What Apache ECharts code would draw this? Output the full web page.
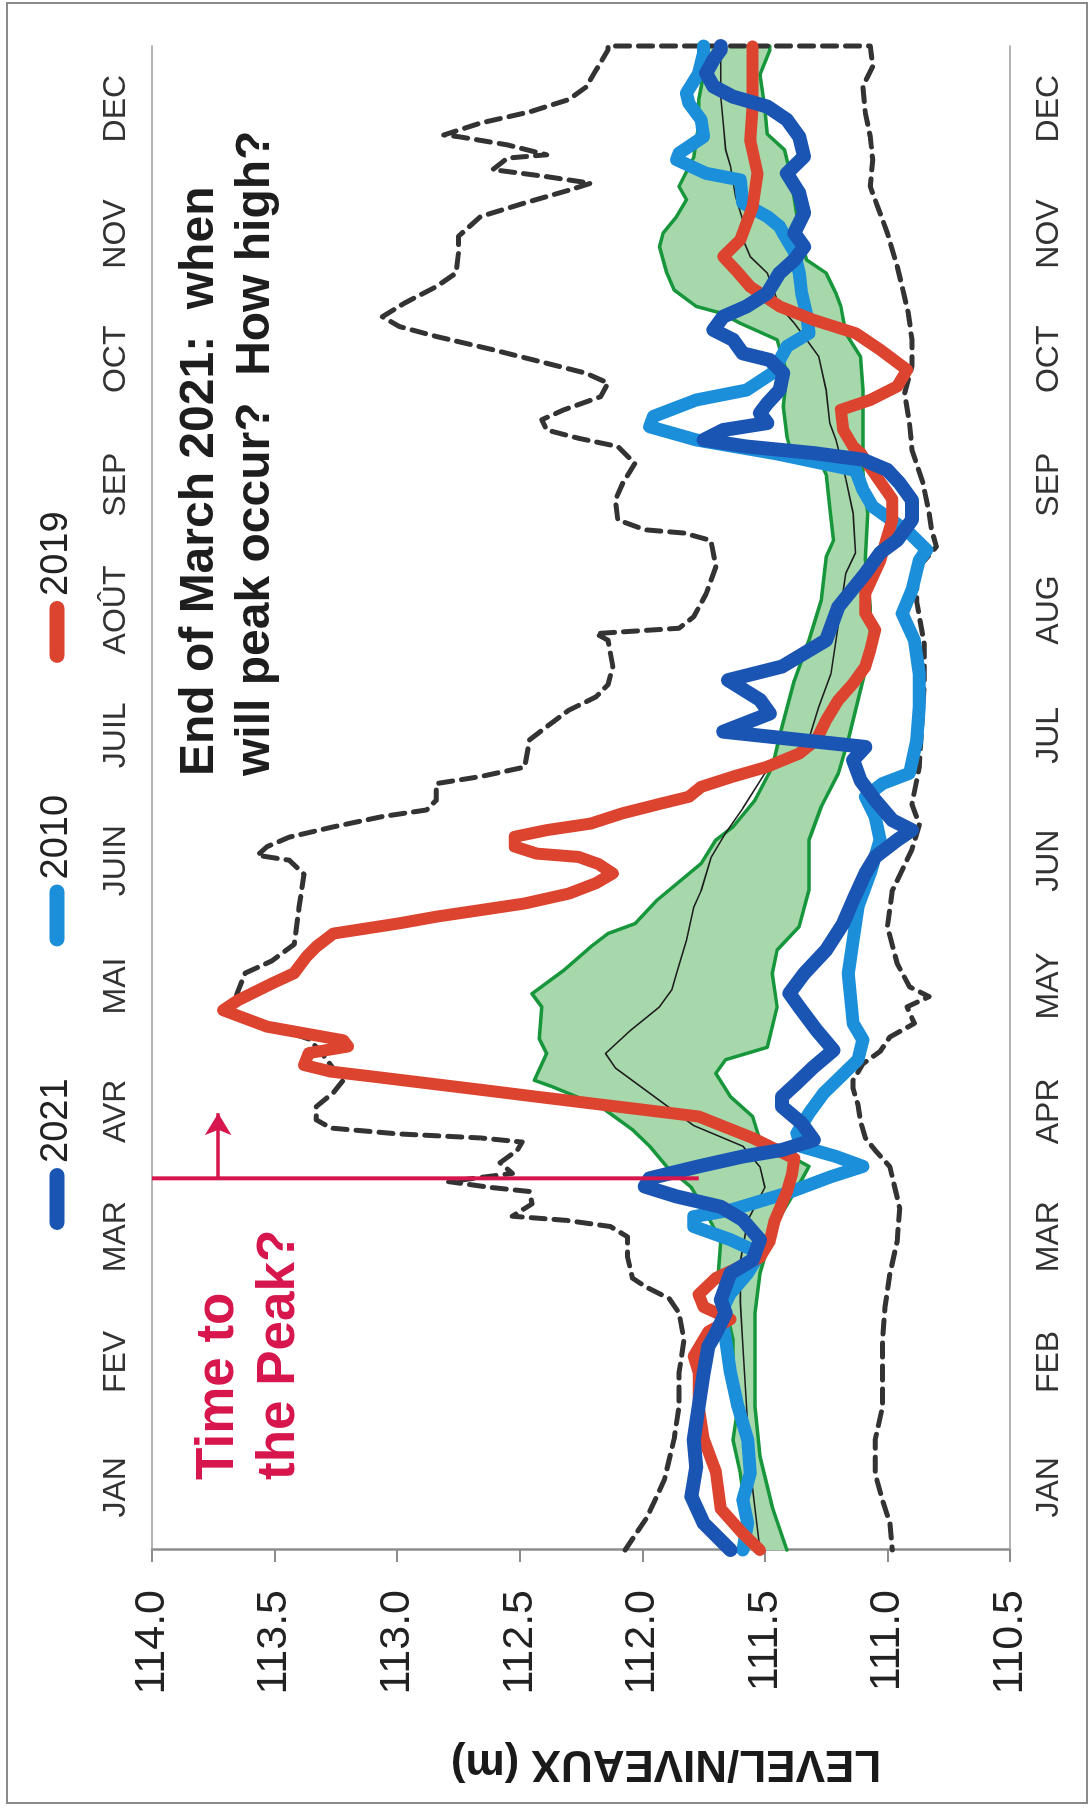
<!DOCTYPE html>
<html>
<head>
<meta charset="utf-8">
<title>Level / Niveaux</title>
<script src="https://cdn.jsdelivr.net/npm/echarts@6/dist/echarts.min.js"></script>
<style>
  html, body { margin: 0; padding: 0; overflow: hidden; background: #ffffff; width: 1091px; height: 1810px; }
  /* The chart is laid out landscape and turned a quarter turn so the time axis runs upward. */
  #chart { position: absolute; left: 0; top: 0; width: 1810px; height: 1091px;
           transform-origin: 0 0; transform: translate(0, 1810px) rotate(-90deg); }
</style>
</head>
<body>
<div id="chart"></div>
<script>
// Month labels (English under the plot, French above it)
const monthsEn = ['JAN', 'FEB', 'MAR', 'APR', 'MAY', 'JUN', 'JUL', 'AUG', 'SEP', 'OCT', 'NOV', 'DEC'];
const monthsFr = ['JAN', 'FEV', 'MAR', 'AVR', 'MAI', 'JUIN', 'JUIL', 'AOÛT', 'SEP', 'OCT', 'NOV', 'DEC'];
const legendNames = ['2021', '2010', '2019'];

// [day of year, level in metres]
const envelopeMax = [
  [0,112.07],[8,111.98],[17,111.91],[27,111.87],[35,111.85],[43,111.85],[51,111.83],[57.5,111.85],[61,111.89],[64,111.99],
  [66,112.04],[71,112.06],[76,112.06],[78.5,112.13],[80,112.31],[81,112.53],[84,112.45],[87,112.46],[88,112.62],[89.4,112.79],
  [91.4,112.53],[94,112.58],[97,112.51],[99,112.49],[100,112.66],[101,113.0],[102.4,113.27],[104.4,113.33],[107.6,113.33],[111,113.26],
  [114,113.22],[116,113.25],[120,113.3],[124,113.36],[128,113.56],[131,113.72],[134,113.66],[140,113.62],[143,113.51],[147,113.42],
  [156,113.40],[164,113.38],[167.4,113.44],[168.6,113.57],[170.7,113.53],[173,113.44],[175.5,113.26],[178,113.06],[179.6,112.88],[182,112.84],
  [186,112.84],[187.7,112.66],[190,112.48],[196.6,112.46],[199.8,112.39],[203.8,112.30],[207,112.19],[210,112.14],[214.4,112.12],[220.8,112.14],
  [222.4,112.19],[223.7,111.85],[226.5,111.79],[232,111.74],[238.6,111.70],[245,111.72],[246.8,111.83],[247.6,111.99],[250,112.10],[254.8,112.11],
  [258.9,112.08],[263.7,112.03],[267.8,112.10],[269.8,112.26],[271.8,112.39],[274.3,112.41],[276.7,112.32],[279.9,112.17],[283.2,112.14],[285.6,112.23],
  [288,112.39],[291.3,112.61],[294.5,112.84],[296.9,112.99],[299.3,113.06],[302.6,112.97],[306.6,112.84],[309.9,112.76],[314.7,112.75],[318.8,112.75],
  [323.6,112.66],[326.9,112.48],[330,112.30],[331.7,112.21],[333.3,112.39],[335,112.61],[337.8,112.55],[338.6,112.39],[341,112.55],[343,112.75],
  [343.4,112.81],[346.3,112.66],[349,112.46],[352,112.30],[355,112.23],[359,112.19],[364,112.14],[365,112.14]
];
const envelopeMin = [
  [0,110.98],[6.5,110.99],[12,111.02],[18.6,111.05],[26.7,111.05],[34.8,111.02],[43,111.02],[51,111.02],[59,111.01],[67,110.99],
  [75,110.96],[83,110.95],[88,110.97],[93,110.99],[97,111.05],[100,111.09],[104,111.11],[108,111.12],[112,111.14],[114,111.14],
  [118,111.10],[121,111.03],[124.5,110.99],[127.8,110.89],[131.8,110.92],[134.3,110.83],[136.7,110.91],[142.3,110.96],[151.3,111.0],[160,110.98],
  [170,110.90],[176,110.87],[181,110.90],[190,110.87],[200,110.86],[210,110.85],[220,110.85],[230,110.88],[238,110.88],[243.5,110.80],
  [247.6,110.82],[251.6,110.83],[258.9,110.855],[267,110.90],[273.5,110.91],[280.7,110.93],[287.2,110.90],[293.7,110.90],[300.2,110.915],[306.6,110.94],
  [311.5,110.96],[319.6,111.00],[326,111.04],[330.9,111.07],[337.4,111.06],[343,111.07],[348.7,111.09],[355.2,111.10],[360,111.06],[365,111.07]
];
const bandUpper = [
  [0,111.57],[10.5,111.58],[18.6,111.60],[26.7,111.63],[34.8,111.61],[43,111.63],[51,111.63],[59,111.66],[67,111.69],[75,111.68],
  [83,111.75],[88,111.80],[93,111.90],[98,111.97],[102,112.04],[107.6,112.17],[112.5,112.37],[114,112.44],[120.5,112.39],[124,112.42],
  [131.8,112.41],[135,112.45],[140.7,112.32],[146.4,112.21],[149.6,112.14],[152,112.03],[157.7,111.94],[166.6,111.76],[172.3,111.70],[175.5,111.63],
  [182,111.54],[190,111.47],[199.8,111.43],[211,111.38],[220.8,111.32],[230.5,111.27],[241,111.25],[245,111.22],[253,111.235],[261,111.25],
  [265,111.28],[268,111.40],[270.2,111.41],[277.5,111.425],[285.6,111.41],[293.7,111.45],[297.7,111.60],[300.2,111.68],[301.8,111.78],[305.8,111.87],
  [309.9,111.90],[316.3,111.93],[319.6,111.915],[323.6,111.86],[327.7,111.82],[330.9,111.85],[338,111.79],[346,111.77],[352,111.77],[358,111.75],
  [365,111.73]
];
const bandLower = [
  [0,111.41],[10.5,111.47],[22.7,111.52],[34.8,111.54],[47,111.54],[57.5,111.54],[67.2,111.52],[75.3,111.48],[81.7,111.43],[89.8,111.35],
  [93.1,111.32],[99.5,111.52],[105.2,111.55],[110,111.64],[115.7,111.70],[119,111.66],[122,111.49],[131.8,111.45],[139.9,111.47],[145.6,111.45],
  [151.3,111.36],[160.2,111.32],[172.3,111.32],[180.4,111.27],[188.5,111.20],[196.6,111.16],[208.7,111.11],[218.4,111.07],[228.9,111.07],[240.2,111.09],
  [251.6,111.08],[261.3,111.10],[269.4,111.10],[281.5,111.10],[289.6,111.11],[295.3,111.17],[301.8,111.19],[305,111.21],[309.9,111.25],[313.1,111.33],
  [320,111.36],[328,111.38],[335,111.40],[339.8,111.42],[343.6,111.49],[350,111.50],[358,111.52],[364,111.48],[365,111.48]
];
const median = [
  [0,111.52],[10,111.54],[20,111.56],[30,111.57],[40,111.58],[50,111.59],[60,111.60],[70,111.60],[80,111.57],[88,111.50],
  [93,111.52],[98,111.59],[103,111.79],[110,111.95],[117,112.11],[120.5,112.15],[126,112.05],[131.8,111.93],[135.9,111.88],[139.9,111.86],
  [148,111.82],[156,111.79],[160,111.76],[168,111.72],[174,111.66],[180,111.59],[188.5,111.50],[195,111.33],[204.6,111.28],[212.7,111.23],
  [220.8,111.21],[228.9,111.19],[237,111.17],[242,111.13],[251.6,111.14],[260,111.17],[269.4,111.21],[273.5,111.235],[281.5,111.25],[289.6,111.28],
  [293.7,111.33],[297.7,111.38],[301.8,111.44],[309.9,111.49],[313.9,111.56],[319.6,111.60],[322.8,111.59],[328.5,111.62],[335.8,111.64],[339.8,111.66],
  [346.3,111.67],[352.7,111.68],[358,111.68],[365,111.68]
];
const year2010 = [
  [0,111.59],[6.5,111.57],[12.1,111.59],[18.6,111.56],[26.7,111.57],[34.8,111.61],[42.9,111.64],[51,111.66],[57.5,111.68],[62.3,111.64],
  [67.2,111.57],[72,111.52],[75.3,111.64],[78.5,111.79],[80.9,111.79],[82.5,111.64],[86.6,111.41],[90.6,111.23],[93.1,111.10],[95.5,111.21],
  [97.9,111.35],[101.1,111.37],[106,111.32],[110.9,111.26],[114.9,111.19],[119,111.12],[123.8,111.10],[127.8,111.14],[139.9,111.16],[148,111.14],
  [156.1,111.12],[164.2,111.07],[172.3,111.03],[178,111.05],[182.8,111.09],[186,111.02],[188.5,110.91],[196.6,110.88],[204.6,110.87],[212.7,110.87],
  [220.8,110.89],[227.3,110.94],[233,110.90],[240.2,110.87],[242.7,110.84],[246.8,110.91],[253.2,111.06],[257.3,111.10],[262,111.13],[266,111.45],
  [269.4,111.78],[272.6,111.97],[275.1,111.955],[279.1,111.78],[281.5,111.575],[285.6,111.47],[288.8,111.44],[292.1,111.41],[295.3,111.32],[300,111.33],
  [305,111.35],[310,111.36],[315,111.38],[319,111.42],[321.2,111.44],[323.6,111.49],[326.9,111.59],[332.5,111.60],[334.1,111.74],[337.4,111.86],
  [339,111.85],[343,111.75],[347.1,111.76],[351.1,111.81],[353.6,111.82],[358.4,111.77],[363.3,111.75],[365,111.75]
];
const year2019 = [
  [0,111.52],[4,111.59],[10,111.68],[19,111.70],[27,111.75],[35,111.77],[43,111.77],[47,111.79],[53,111.73],[56,111.64],
  [59,111.75],[62,111.77],[66,111.70],[71,111.52],[75,111.48],[80,111.46],[87,111.41],[91,111.39],[95,111.38],[100,111.55],
  [105.2,111.77],[106.8,111.99],[108.4,112.21],[110,112.43],[111.7,112.66],[113.3,112.88],[114.9,113.10],[116.1,113.27],[117.7,113.38],[120.6,113.36],
  [122.2,113.20],[123.7,113.22],[127,113.53],[131,113.71],[133.4,113.65],[137.5,113.51],[140,113.42],[144,113.37],[146.4,113.33],[149.6,113.26],
  [152.1,112.99],[153.7,112.84],[155.3,112.66],[156.9,112.48],[159.3,112.30],[161.8,112.19],[164.2,112.12],[166.5,112.18],[168.2,112.26],[169,112.43],
  [170.7,112.52],[173.1,112.52],[174.7,112.39],[176.3,112.21],[178.8,112.08],[181.2,111.92],[182.8,111.81],[185.2,111.76],[187.7,111.63],[190.1,111.49],
  [193.3,111.36],[196.6,111.29],[201.4,111.25],[206.3,111.20],[210.3,111.14],[214.4,111.09],[218.4,111.07],[223.3,111.05],[227.3,111.09],[232.2,111.09],
  [240,111.03],[250,110.98],[255,110.98],[261,111.05],[266.2,111.11],[267.8,111.14],[271.8,111.18],[276.7,111.19],[279.1,111.07],[282.4,110.96],
  [286.4,110.92],[291.3,111.03],[295.3,111.13],[298.5,111.30],[301.8,111.44],[306.6,111.56],[310.7,111.62],[313.9,111.67],[318,111.60],[326,111.55],
  [334.1,111.53],[342.2,111.56],[350,111.55],[356.8,111.55],[364.9,111.55]
];
const year2021 = [
  [0,111.64],[6.5,111.75],[13,111.80],[20,111.78],[26.7,111.79],[34.8,111.77],[42.9,111.75],[49.4,111.73],[52.6,111.70],[57.5,111.66],
  [60.7,111.68],[67.2,111.64],[70.4,111.55],[75.3,111.52],[80.1,111.59],[83.3,111.68],[85.8,111.86],[88.2,111.99],[90.2,111.97],[93.1,111.77],
  [95.5,111.59],[97.1,111.43],[99.5,111.30],[103.6,111.35],[107.6,111.43],[110,111.43],[113.3,111.37],[117.3,111.30],[121.3,111.22],[126.2,111.29],
  [131.8,111.36],[135.1,111.40],[139.9,111.34],[145.6,111.25],[152.1,111.18],[157.7,111.14],[164.2,111.09],[168.2,111.05],[172.3,110.96],[174.7,110.90],
  [177.1,110.98],[182,111.05],[186.8,111.11],[191.7,111.14],[194.9,111.09],[198.6,111.67],[203,111.48],[206.3,111.52],[211.1,111.65],[214.4,111.43],
  [220.8,111.25],[228.9,111.20],[237,111.09],[242,111.03],[245.1,110.96],[250,110.90],[254.8,110.90],[258.9,110.95],[262.1,111.00],[264.6,111.10],
  [266.2,111.30],[267.8,111.575],[269.4,111.75],[271.8,111.67],[273.5,111.49],[275.9,111.52],[278.3,111.49],[281.5,111.44],[285.6,111.425],[288.8,111.48],
  [290.4,111.59],[293.7,111.63],[296.1,111.71],[299.3,111.67],[301.8,111.575],[305,111.49],[309.9,111.44],[313.1,111.38],[316.3,111.34],[319.6,111.38],
  [324.4,111.34],[329.3,111.36],[334.1,111.41],[338.2,111.34],[343,111.36],[347.1,111.41],[350.3,111.49],[352.7,111.63],[355.2,111.71],[358.4,111.74],
  [361.6,111.71],[364.1,111.68],[365,111.68]
];
// "End of March" marker: day, level reached by the line, level of the arrow and its end day
const markerLine = [[90.2, 114.0], [90.2, 111.77]];
const markerArrow = [[90.2, 113.73], [106, 113.73]];

const FONT = '"Liberation Sans", Arial, Helvetica, sans-serif';
const CRIMSON = '#d6164c';
const C2021 = '#1b55b3', C2010 = '#1c8fdb', C2019 = '#dc4430';

function thickLine(name, data, color, width) {
  return {
    name: name, type: 'line', data: data, xAxisIndex: 0, yAxisIndex: 0,
    showSymbol: false, symbol: 'none', smooth: false,
    itemStyle: { color: color },
    lineStyle: { color: color, width: width, cap: 'round', join: 'round' },
    emphasis: { disabled: true }
  };
}

const chart = echarts.init(document.getElementById('chart'), null, { renderer: 'canvas' });

chart.setOption({
  animation: false,
  backgroundColor: '#ffffff',
  grid: { left: 260, right: 46, top: 152, bottom: 81, containLabel: false },
  legend: {
    data: legendNames, left: 575, top: 33, orient: 'horizontal',
    itemWidth: 62, itemHeight: 15, itemGap: 132, selectedMode: false,
    icon: 'path://M7.5,0H54.5A7.5,7.5,0,0,1,54.5,15H7.5A7.5,7.5,0,0,1,7.5,0Z',
    textStyle: { fontSize: 38, color: '#222222', fontFamily: FONT }
  },
  xAxis: [
    { type: 'value', min: 0, max: 365, show: false },
    {
      type: 'category', data: monthsEn, position: 'bottom', boundaryGap: true,
      axisLine: { show: true, lineStyle: { color: '#9a9a9a', width: 1.5 } },
      axisTick: { show: false }, splitLine: { show: false },
      axisLabel: { interval: 0, fontSize: 32, color: '#333333', margin: 23, fontFamily: FONT }
    },
    {
      type: 'category', data: monthsFr, position: 'top', boundaryGap: true,
      axisLine: { show: true, lineStyle: { color: '#9a9a9a', width: 1.5 } },
      axisTick: { show: false }, splitLine: { show: false },
      axisLabel: { interval: 0, fontSize: 32, color: '#333333', margin: 20, fontFamily: FONT }
    }
  ],
  yAxis: {
    type: 'value', min: 110.5, max: 114, interval: 0.5,
    axisLine: { show: true, lineStyle: { color: '#8c8c8c', width: 2.5 } },
    axisTick: { show: true, length: 12, lineStyle: { color: '#8c8c8c', width: 2 } },
    splitLine: { show: false },
    axisLabel: { formatter: v => v.toFixed(1), fontSize: 43, color: '#222222', margin: 40, fontFamily: FONT }
  },
  graphic: [
    { type: 'rect', silent: true, z: 0, shape: { x: 7, y: 7, width: 1800, height: 1080 },
      style: { fill: 'none', stroke: '#8a8a8a', lineWidth: 2 } },
    { type: 'text', x: 47, y: 666, rotation: Math.PI / 2, silent: true,
      style: { text: 'LEVEL/NIVEAUX (m)', font: 'bold 44px ' + FONT, fill: '#1a1a1a', align: 'center', verticalAlign: 'middle' } },
    { type: 'text', x: 330, y: 218, silent: true,
      style: { text: 'Time to', font: 'bold 53px ' + FONT, fill: CRIMSON, align: 'left', verticalAlign: 'middle' } },
    { type: 'text', x: 330, y: 279, silent: true,
      style: { text: 'the Peak?', font: 'bold 53px ' + FONT, fill: CRIMSON, align: 'left', verticalAlign: 'middle' } },
    { type: 'text', x: 1034, y: 200, silent: true,
      style: { text: 'End of March 2021:  when', font: 'bold 48px ' + FONT, fill: '#1e1e1e', align: 'left', verticalAlign: 'middle' } },
    { type: 'text', x: 1034, y: 256, silent: true,
      style: { text: 'will peak occur?  How high?', font: 'bold 48px ' + FONT, fill: '#1e1e1e', align: 'left', verticalAlign: 'middle' } }
  ],
  series: [
    {
      name: 'band', type: 'custom', xAxisIndex: 0, yAxisIndex: 0, silent: true,
      data: [[0, 111.5]],
      renderItem: function (params, api) {
        const pts = bandUpper.map(p => api.coord(p))
          .concat(bandLower.slice().reverse().map(p => api.coord(p)));
        return { type: 'polygon', shape: { points: pts }, style: { fill: '#a6d8ab' } };
      }
    },
    thickLine('upper quartile', bandUpper, '#17963b', 3.5),
    thickLine('lower quartile', bandLower, '#17963b', 3.5),
    thickLine('median', median, '#1e1e1e', 1.6),
    Object.assign(thickLine('extremes', envelopeMax.concat(envelopeMin.slice().reverse()), '#333333', 5), {
      clip: false,
      lineStyle: { color: '#333333', width: 5, type: [14, 9], cap: 'round', join: 'round' }
    }),
    thickLine('2010', year2010, C2010, 13),
    thickLine('2019', year2019, C2019, 12),
    thickLine('2021', year2021, C2021, 14),
    Object.assign(thickLine('end of March', markerLine, CRIMSON, 4), {
      clip: false,
      lineStyle: { color: CRIMSON, width: 4, cap: 'butt' },
      markLine: {
        silent: true, animation: false, symbol: ['none', 'arrow'], symbolSize: [20, 22],
        label: { show: false },
        lineStyle: { color: CRIMSON, width: 3.5, type: 'solid' },
        data: [[{ coord: markerArrow[0] }, { coord: markerArrow[1] }]]
      }
    })
  ]
});
</script>
</body>
</html>
